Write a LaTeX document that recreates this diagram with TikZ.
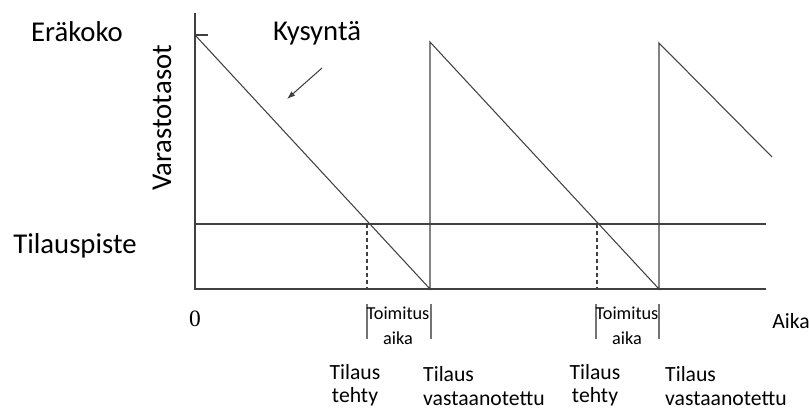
\documentclass[tikz,border=0pt]{standalone}
\usepackage{fontspec}
\setmainfont{Carlito}
\newfontfamily\zerofont{Liberation Serif}
\usetikzlibrary{arrows.meta}
\begin{document}
\begin{tikzpicture}[x=0.03cm, y=-0.03cm]
    % Styles
    \tikzset{axis line/.style={draw=black!75, line width=0.9pt},
             lead line/.style={draw=black!55, line width=0.9pt},
             big label/.style={font=\fontsize{24.5}{29}\selectfont, inner sep=0pt},
             small label/.style={font=\fontsize{18.5}{20}\selectfont, align=center, inner sep=0pt},
             lead label/.style={font=\fontsize{15.6}{21}\selectfont, align=center, inner sep=0pt}}
    \useasboundingbox (0,0) rectangle (809,410);

    % Axes
    \coordinate (origin) at (195,289);
    \coordinate (ytop) at (195,13);
    \coordinate (xend) at (766,289);
    \draw[axis line] (ytop) -- (origin) -- (xend);

    % Tick for the lot size
    \coordinate (q) at (195,35);
    \coordinate (qtick) at (208,35);
    \draw[axis line] (q) -- (qtick);

    % Reorder point line
    \coordinate (rp) at (195,224);
    \coordinate (rpend) at (766,224);
    \draw[axis line] (rp) -- (rpend);

    % Inventory sawtooth
    \coordinate (r1) at (430,289);
    \coordinate (p1) at (430,42);
    \coordinate (r2) at (659,289);
    \coordinate (p2) at (659,43);
    \coordinate (last) at (772,157);
    \draw[axis line] (q) -- (r1) -- (p1) -- (r2) -- (p2) -- (last);

    % Orders placed (dashed)
    \coordinate (o1) at (367,224);
    \coordinate (o1b) at (367,289);
    \coordinate (o2) at (597,224);
    \coordinate (o2b) at (597,289);
    \draw[axis line, dashed] (o1) -- (o1b);
    \draw[axis line, dashed] (o2) -- (o2b);

    % Lead time brackets
    \coordinate (b1a) at (367,304); \coordinate (b1b) at (367,339);
    \coordinate (b1c) at (431,304); \coordinate (b1d) at (431,339);
    \coordinate (b2a) at (596,304); \coordinate (b2b) at (596,339);
    \coordinate (b2c) at (659,304); \coordinate (b2d) at (659,339);
    \draw[lead line] (b1a) -- (b1b);
    \draw[lead line] (b1c) -- (b1d);
    \draw[lead line] (b2a) -- (b2b);
    \draw[lead line] (b2c) -- (b2d);
    \node[lead label] (lead1) at (398,326) {Toimitus\\aika};
    \node[lead label] (lead2) at (627,326) {Toimitus\\aika};

    % Left labels
    \node[big label] (erakoko) at (77,32) {Eräkoko};
    \node[big label] (tilauspiste) at (75,246) {Tilauspiste};
    \node[big label, rotate=90] (varasto) at (162,118) {Varastotasot};

    % Demand label and arrow
    \node[big label] (kysynta) at (317,33) {Kysyntä};
    \coordinate (ka) at (322,68);
    \coordinate (kb) at (287,99);
    \draw[axis line, -{Latex[length=7pt, width=5pt]}] (ka) -- (kb);

    % Axis texts
    \node[font=\zerofont\fontsize{20}{22}\selectfont, inner sep=0pt] (zero) at (195,319) {0};
    \node[small label] (aika) at (791,321) {Aika};

    % Order events
    \node[small label] (tehty1) at (355,385) {Tilaus\\tehty};
    \node[small label, align=left, anchor=west] (vast1) at (423,386) {Tilaus\\vastaanotettu};
    \node[small label] (tehty2) at (595,385) {Tilaus\\tehty};
    \node[small label, align=left, anchor=west] (vast2) at (665,386) {Tilaus\\vastaanotettu};
\end{tikzpicture}
\end{document}
